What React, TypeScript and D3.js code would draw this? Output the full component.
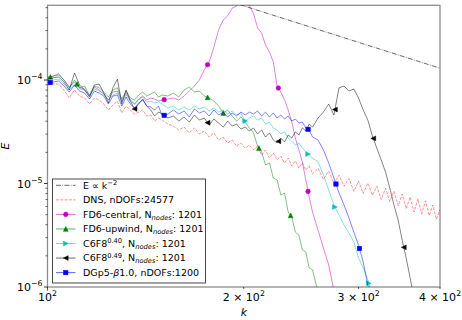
import React from "react";
import * as d3 from "d3";

// wavenumbers shared by every spectrum
const kGrid = [
  100, 102, 104, 106, 108, 110, 112, 114, 116, 118, 120, 122, 124, 126, 128, 130, 132, 134, 136, 138, 140, 142, 144, 146, 148, 150,
  153, 156, 159, 162, 165, 168, 171, 174, 177, 180, 183, 186, 189, 192, 195, 198, 201, 204, 207, 210, 213, 216, 219, 222, 225, 228, 231, 234, 237, 240, 243, 246, 249, 252, 255,
  260, 265, 270, 275, 280, 285, 290, 295, 300, 305, 310, 315, 320, 325, 330, 335, 340, 345, 350, 355, 360, 365, 370, 375, 380, 385, 390, 395, 400,
];

// energy values, in units of 1e-5
const E_UNIT = 1e-5;

const dnsE = [
  8.95, 9.15, 9.15, 8.0, 6.7, 8.0, 7.0, 6.7, 5.86, 6.7, 6.41, 5.86, 5.13, 5.73, 6.27, 4.8, 5.6, 5.13, 4.69, 4.9, 5.13, 4.49, 4.59, 4.01, 4.29, 4.1,
  3.75, 3.59, 3.29, 3.51, 3.08, 3.44, 3.01, 3.22, 2.81, 3.08, 2.63, 2.81, 2.46, 2.63, 2.3, 2.46, 2.2, 2.35, 2.11, 2.3, 1.88, 2.11, 1.76, 1.97, 1.69, 1.84, 1.58, 1.76, 1.48, 1.65, 1.41, 1.58, 1.35, 1.48, 1.24,
  1.4, 1.1, 1.32, 1.0, 1.2, 0.94, 1.12, 0.84, 1.05, 0.8, 1.01, 0.77, 0.94, 0.7, 0.9, 0.67, 0.84, 0.61, 0.79, 0.57, 0.74, 0.53, 0.71, 0.51, 0.68, 0.49, 0.62, 0.45, 0.56,
];

const fd6CentralE = [
  10.7, 10.9, 11.5, 10.0, 8.55, 9.56, 8.4, 8.2, 7.16, 8.55, 8.0, 7.32, 6.41, 7.65, 7.82, 6.27, 7.48, 6.41, 5.86, 6.55, 7.0, 6.41, 6.7, 6.55, 6.27, 6.41,
  6.55, 6.7, 6.41, 7.0, 7.82, 8.75, 10.0, 12.5, 14.9, 20.8, 30.5, 38.0, 41.6, 49.6, 51.8, 63.4, 60.6, 52.0, 44.0, 31.9, 28.4, 21.8, 18.6, 14.9, 8.75, 7.65, 6.41, 5.13, 3.92, 2.75, 2.11, 1.62, 1.08, 0.74, 0.53,
  0.355, 0.238, 0.163, 0.093,
];

const fd6UpwindE = [
  10.5, 10.9, 11.2, 10.0, 8.4, 10.0, 8.4, 8.75, 7.0, 8.75, 8.4, 7.65, 6.85, 8.0, 8.4, 6.55, 7.82, 6.7, 6.41, 7.16, 7.65, 7.0, 7.32, 7.65, 6.85, 7.16,
  7.0, 7.48, 6.85, 8.0, 8.55, 7.65, 7.82, 7.0, 6.7, 6.27, 5.6, 4.8, 5.13, 4.49, 4.01, 4.39, 3.92, 3.44, 3.08, 2.3, 2.02, 1.51, 1.58, 1.13, 1.08, 0.774, 0.81, 0.53, 0.474, 0.339, 0.318, 0.228, 0.218, 0.153, 0.146,
  0.089,
];

const c6f8040E = [
  9.78, 10.0, 10.2, 9.15, 8.0, 9.15, 8.2, 8.0, 7.0, 8.2, 7.82, 7.32, 6.41, 7.16, 7.48, 6.13, 7.16, 6.27, 5.86, 6.41, 6.85, 6.13, 6.27, 6.0, 6.13, 5.86,
  5.36, 5.6, 5.13, 5.49, 5.13, 5.6, 5.25, 5.49, 5.02, 5.36, 4.9, 5.13, 4.69, 5.02, 4.59, 4.8, 4.01, 4.29, 4.49, 4.1, 4.29, 3.75, 3.92, 3.44, 3.29, 3.01, 3.15, 2.75, 2.57, 2.35, 2.46, 2.2, 2.02, 1.88, 1.76,
  1.62, 1.21, 0.865, 0.62, 0.496, 0.397, 0.333, 0.272, 0.19, 0.153, 0.117, 0.081,
];

const c6f8049E = [
  10.2, 10.5, 10.7, 9.56, 8.0, 11.7, 8.95, 8.0, 6.85, 8.95, 9.15, 7.48, 6.0, 8.4, 10.2, 5.86, 8.0, 6.27, 5.25, 5.86, 6.55, 5.6, 5.13, 4.49, 4.9, 4.69,
  4.29, 4.49, 4.01, 4.39, 3.92, 4.59, 4.1, 4.29, 3.67, 4.2, 3.84, 3.51, 4.01, 3.59, 3.75, 3.36, 3.51, 3.22, 3.44, 3.01, 3.29, 2.81, 3.08, 2.63, 2.46, 2.75, 2.52, 2.94, 2.75, 3.15, 2.94, 3.44, 3.22, 3.75, 3.51,
  4.29, 4.9, 5.86, 4.59, 8.4, 8.75, 7.82, 8.2, 6.7, 5.13, 4.1, 2.88, 2.2, 1.69, 1.29, 0.905, 0.62, 0.444, 0.284, 0.19, 0.122, 0.078,
];

const dgp5E = [
  9.35, 9.56, 9.78, 8.75, 7.65, 8.95, 7.82, 7.48, 6.55, 7.82, 7.48, 7.0, 5.86, 7.0, 7.16, 5.6, 6.85, 5.86, 5.36, 6.0, 6.41, 5.6, 5.49, 5.13, 5.6, 4.49,
  4.69, 5.13, 4.69, 5.02, 4.39, 5.25, 4.8, 5.02, 4.49, 5.13, 4.59, 4.9, 4.39, 4.8, 4.49, 4.9, 4.59, 4.9, 4.69, 5.02, 4.49, 4.9, 4.39, 4.8, 4.29, 4.59, 4.2, 4.49, 4.01, 4.2, 3.84, 3.92, 3.44, 3.29, 2.81,
  2.63, 2.11, 1.58, 1.13, 0.81, 0.62, 0.465, 0.339, 0.254, 0.174, 0.104, 0.075,
];

// wavenumbers where markers sit
const fd6CentralMarks = [151, 176, 226, 251];
const fd6UpwindMarks = [101, 111, 176, 186, 211, 236];
const c6f8040Marks = [201, 251, 276, 311];
const c6f8049Marks = [136, 176, 226, 276, 316, 352];
const dgp5Marks = [101, 151, 251, 277, 301];

// E ∝ k^-2 guide line end points
const slopeK = [100, 400];
const slopeE = [2.08e-3, 1.3e-4];

const yMajor = [1e-6, 1e-5, 1e-4];
const yMajorExp = ["−6", "−5", "−4"];
const xTicks = [100, 200, 300, 400];
const xTickMant = ["", "2", "3", "4"];

const W = 462;
const H = 320;
const L = 47.5, R = 440, T = 5.3, B = 287;
const FONT = "DejaVu Sans, sans-serif";

const x = d3.scaleLog().domain([100, 400]).range([L, R]);
const y = d3.scaleLog().domain([1e-6, 5.27e-4]).range([B, T]);

const series = [
  { key: "fd6c", values: fd6CentralE, color: "#bf00bf", marker: "o", marks: fd6CentralMarks },
  { key: "fd6u", values: fd6UpwindE, color: "#008000", marker: "^", marks: fd6UpwindMarks },
  { key: "c040", values: c6f8040E, color: "#00bfbf", marker: ">", marks: c6f8040Marks },
  { key: "c049", values: c6f8049E, color: "#000000", marker: "<", marks: c6f8049Marks },
  { key: "dg", values: dgp5E, color: "#0000ff", marker: "s", marks: dgp5Marks },
];

function valueAt(values: number[], k: number) {
  const i = Math.max(0, Math.min(values.length - 2, d3.bisectRight(kGrid, k) - 1));
  const k0 = kGrid[i], k1 = kGrid[i + 1];
  const t = Math.log(k / k0) / Math.log(k1 / k0);
  return Math.exp(Math.log(values[i]) * (1 - t) + Math.log(values[i + 1]) * t) * E_UNIT;
}

function Marker({ type, cx, cy, color }: { type: string; cx: number; cy: number; color: string }) {
  const h = 2.4;
  if (type === "o") return <circle cx={cx} cy={cy} r={2.3} fill={color} stroke={color} strokeWidth={0.5} />;
  if (type === "s") return <rect x={cx - 2.2} y={cy - 2.2} width={4.4} height={4.4} fill={color} stroke={color} strokeWidth={0.5} />;
  let pts = "";
  if (type === "^") pts = `${cx},${cy - h} ${cx - h},${cy + h} ${cx + h},${cy + h}`;
  if (type === ">") pts = `${cx + h},${cy} ${cx - h},${cy - h} ${cx - h},${cy + h}`;
  if (type === "<") pts = `${cx - h},${cy} ${cx + h},${cy - h} ${cx + h},${cy + h}`;
  return <polygon points={pts} fill={color} stroke={color} strokeWidth={0.5} />;
}

const line = d3
  .line<[number, number]>()
  .x((d) => x(d[0]))
  .y((d) => y(d[1]));

function pairs(values: number[]): [number, number][] {
  return values.map((v, i) => [kGrid[i], v * E_UNIT]);
}

export default function App() {
  const yMinor: number[] = [];
  [-6, -5, -4].forEach((e) => {
    for (let m = 2; m <= 9; m++) {
      const v = m * Math.pow(10, e);
      if (v <= y.domain()[1]) yMinor.push(v);
    }
  });

  const rowY = (i: number) => 185.3 + i * 14.55;
  const lx0 = 56, lx1 = 75.5, lmx = (lx0 + lx1) / 2, tx = 83;
  const legendRows = [
    { stroke: "#000", dash: "5,1.3,0.8,1.3", opacity: 0.75, marker: null, color: "#000" },
    { stroke: "#ff0000", dash: "3,1.3", opacity: 0.55, marker: null, color: "#ff0000" },
    ...series.map((s) => ({ stroke: s.color, dash: undefined, opacity: 0.75, marker: s.marker, color: s.color })),
  ];

  return (
    <svg
      width={W}
      height={H}
      viewBox={`0 0 ${W} ${H}`}
      style={{ position: "absolute", left: 0, top: 0, background: "#fff" }}
      fontFamily={FONT}
    >
      <defs>
        <clipPath id="plotArea">
          <rect x={L} y={T} width={R - L} height={B - T} />
        </clipPath>
      </defs>
      <rect x={0} y={0} width={W} height={H} fill="#fff" />

      <g clipPath="url(#plotArea)">
        <path
          d={line(slopeK.map((k, i) => [k, slopeE[i]] as [number, number])) || ""}
          fill="none"
          stroke="#000"
          strokeOpacity={0.75}
          strokeWidth={0.8}
          strokeDasharray="5,1.3,0.8,1.3"
        />
        <path d={line(pairs(dnsE)) || ""} fill="none" stroke="#ff0000" strokeOpacity={0.55} strokeWidth={0.8} strokeDasharray="3,1.3" />
        {series.map((s) => (
          <g key={s.key}>
            <path d={line(pairs(s.values)) || ""} fill="none" stroke={s.color} strokeOpacity={0.7} strokeWidth={0.7} />
            {s.marks.map((k) => (
              <Marker key={k} type={s.marker} cx={x(k)} cy={y(valueAt(s.values, k))} color={s.color} />
            ))}
          </g>
        ))}
      </g>

      {/* frame */}
      <rect x={L} y={T} width={R - L} height={B - T} fill="none" stroke="#000" strokeOpacity={0.45} strokeWidth={1.3} />

      {/* y ticks */}
      {yMajor.map((v, i) => (
        <g key={`ym${i}`}>
          <line x1={L - 3.5} x2={L} y1={y(v)} y2={y(v)} stroke="#000" strokeWidth={0.8} />
          <text x={42.5} y={y(v) + 4} fontSize={11} textAnchor="end">
            10<tspan dy={-4.6} fontSize={7.8}>{yMajorExp[i]}</tspan>
          </text>
        </g>
      ))}
      {yMinor.map((v, i) => (
        <line key={`yn${i}`} x1={L - 2} x2={L} y1={y(v)} y2={y(v)} stroke="#000" strokeWidth={0.6} />
      ))}

      {/* x ticks */}
      {xTicks.map((v, i) => (
        <g key={`x${i}`}>
          <line x1={x(v)} x2={x(v)} y1={B} y2={B + (i === 0 ? 3.5 : 2)} stroke="#000" strokeWidth={0.7} />
          <text x={x(v)} y={301} fontSize={11} textAnchor="middle">
            {xTickMant[i] ? `${xTickMant[i]} × 10` : "10"}
            <tspan dy={-4.6} fontSize={7.8}>2</tspan>
          </text>
        </g>
      ))}

      {/* axis labels */}
      <text x={244} y={316} fontSize={11} fontStyle="italic" textAnchor="middle">k</text>
      <text transform="translate(8.5,146) rotate(-90)" fontSize={11} fontStyle="italic" textAnchor="middle">E</text>

      {/* legend */}
      <rect x={52.5} y={179} width={153} height={104} fill="#fff" stroke="#333" strokeWidth={0.9} />
      {legendRows.map((r, i) => (
        <g key={`lg${i}`}>
          <line
            x1={lx0}
            x2={lx1}
            y1={rowY(i)}
            y2={rowY(i)}
            stroke={r.stroke}
            strokeOpacity={r.opacity}
            strokeWidth={0.8}
            strokeDasharray={r.dash}
          />
          {r.marker ? <Marker type={r.marker} cx={lmx} cy={rowY(i)} color={r.color} /> : null}
        </g>
      ))}
      <g fontSize={9.5}>
        <text x={tx} y={rowY(0) + 3.4}>
          E ∝ k<tspan dy={-3.6} fontSize={6.7}>−2</tspan>
        </text>
        <text x={tx} y={rowY(1) + 3.4}>DNS, nDOFs:24577</text>
        <text x={tx} y={rowY(2) + 3.4}>
          FD6-central, N<tspan dy={1.8} fontSize={6.7} fontStyle="italic">nodes</tspan>
          <tspan dy={-1.8}>: 1201</tspan>
        </text>
        <text x={tx} y={rowY(3) + 3.4}>
          FD6-upwind, N<tspan dy={1.8} fontSize={6.7} fontStyle="italic">nodes</tspan>
          <tspan dy={-1.8}>: 1201</tspan>
        </text>
        <text x={tx} y={rowY(4) + 3.4}>
          C6F8<tspan dy={-3.6} fontSize={6.7}>0.40</tspan>
          <tspan dy={3.6}>, N</tspan>
          <tspan dy={1.8} fontSize={6.7} fontStyle="italic">nodes</tspan>
          <tspan dy={-1.8}>: 1201</tspan>
        </text>
        <text x={tx} y={rowY(5) + 3.4}>
          C6F8<tspan dy={-3.6} fontSize={6.7}>0.49</tspan>
          <tspan dy={3.6}>, N</tspan>
          <tspan dy={1.8} fontSize={6.7} fontStyle="italic">nodes</tspan>
          <tspan dy={-1.8}>: 1201</tspan>
        </text>
        <text x={tx} y={rowY(6) + 3.4}>
          DGp5-<tspan fontStyle="italic">β</tspan>1.0, nDOFs:1200
        </text>
      </g>
    </svg>
  );
}
